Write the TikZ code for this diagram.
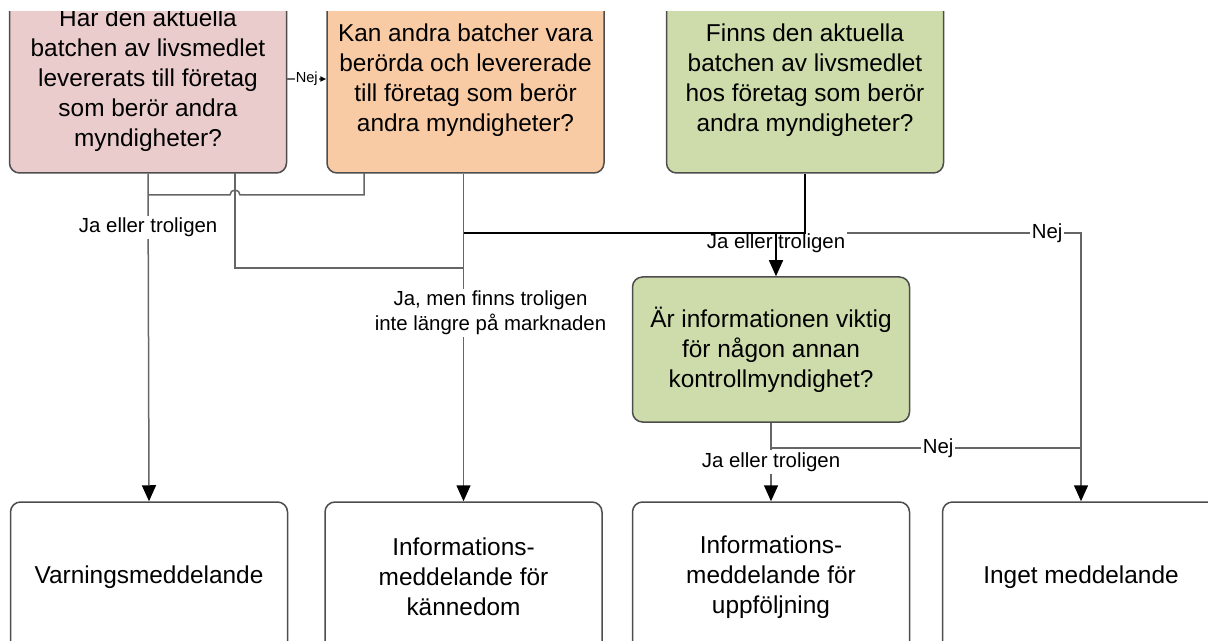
\documentclass[tikz,border=0pt]{standalone}
\usepackage{fontspec}
\setmainfont{Liberation Sans}
\usetikzlibrary{arrows.meta,positioning,calc}

\definecolor{qpink}{HTML}{EACCCC}
\definecolor{qorange}{HTML}{F9CBA4}
\definecolor{qgreen}{HTML}{CDDCAA}
\definecolor{wiregray}{HTML}{666666}
\definecolor{rimgray}{HTML}{4D4D4D}

\tikzset{
  question/.style={draw=rimgray, line width=0.75pt, rounded corners=5pt, align=center,
    minimum width=138.5pt, inner sep=0pt, font=\fontsize{12.2}{15}\selectfont},
  outcome/.style={question, fill=white, minimum height=75pt},
  wire/.style={draw=wiregray, line width=0.75pt},
  arr/.style={-{Triangle[width=7pt,length=8pt,black]}},
  lab/.style={font=\fontsize{10.2}{12.5}\selectfont, fill=white, inner sep=1pt, align=center},
}

\begin{document}
\begin{tikzpicture}[x=0.5pt,y=-0.5pt]
  \useasboundingbox (0,0) rectangle (1208,641);
  \clip (0,12) rectangle (1208,641);

  % Questions
  \node[question,fill=qpink,minimum height=93pt] (pink) at (148,80)
    {Har den aktuella\\batchen av livsmedlet\\levererats till företag\\som berör andra\\myndigheter?};
  \node[question,fill=qorange,minimum height=93pt,right=19.5pt of pink] (orange)
    {Kan andra batcher vara\\berörda och levererade\\till företag som berör\\andra myndigheter?};
  \node[question,fill=qgreen,minimum height=93pt,right=30.5pt of orange] (green)
    {Finns den aktuella\\batchen av livsmedlet\\hos företag som berör\\andra myndigheter?};
  \node[question,fill=qgreen,minimum height=72.5pt] (green2) at (771,349.5)
    {Är informationen viktig\\för någon annan\\kontrollmyndighet?};

  % Outcomes
  \node[outcome] (warn) at (149,577) {Varningsmeddelande};
  \node[outcome] (info1) at (463.5,577) {Informations-\\meddelande för\\kännedom};
  \node[outcome] (info2) at (771,577) {Informations-\\meddelande för\\uppföljning};
  \node[outcome] (none) at (1081,577) {Inget meddelande};

  % Junction levels
  \coordinate (lvlA) at (0,195);
  \coordinate (lvlB) at (0,233);
  \coordinate (lvlC) at (0,268);
  \coordinate (lvlD) at (0,448);
  \coordinate (pinkyes) at (235,173);
  \coordinate (orangeyes) at (364,173);
  \coordinate (hop) at (235,195);

  % Wiring from the first two questions
  \draw[wire,-{Triangle[width=2.5pt,length=3pt,black]}] (pink.east |- 0,79)
    -- node[fill=white,inner sep=0.5pt,font=\fontsize{7.3}{8}\selectfont] {Nej} (orange.west |- 0,79);
  \draw[wire,arr] (pink.south) -- node[lab,pos=0.164] {Ja eller troligen} (warn.north);
  \draw[wire] (orangeyes) |- ([xshift=2.5pt]hop) arc[start angle=0,end angle=-180,radius=5]
    -- (pink.south |- lvlA);
  \draw[wire] (pinkyes) |- (info1.north |- lvlC);
  \draw[wire,arr] (orange.south -| info1.north) -- node[lab,pos=0.4255,xshift=13.5pt]
    {Ja, men finns troligen\\inte längre på marknaden} (info1.north);

  % Wiring from the third question
  \draw[wire,arr] ([xshift=2.5pt]green2.north |- lvlB) node[lab,yshift=-5pt] {Ja eller troligen}
    -- node[lab,pos=0.889] {Nej} (none.north |- lvlB) -- (none.north);
  \draw[black,line width=1pt] (info1.north |- lvlB) -- (green.south |- lvlB) -- (green.south);
  \draw[black,line width=0.75pt,arr] ([xshift=2.5pt]green2.north |- lvlB) -- ([xshift=2.5pt]green2.north);

  % Wiring from the fourth question
  \draw[wire,arr] (green2.south) -- node[lab,pos=0.5] {Ja eller troligen} (info2.north);
  \draw[wire] (green2.south |- lvlD) -- node[lab,pos=0.539] {Nej} (none.north |- lvlD);
\end{tikzpicture}
\end{document}
